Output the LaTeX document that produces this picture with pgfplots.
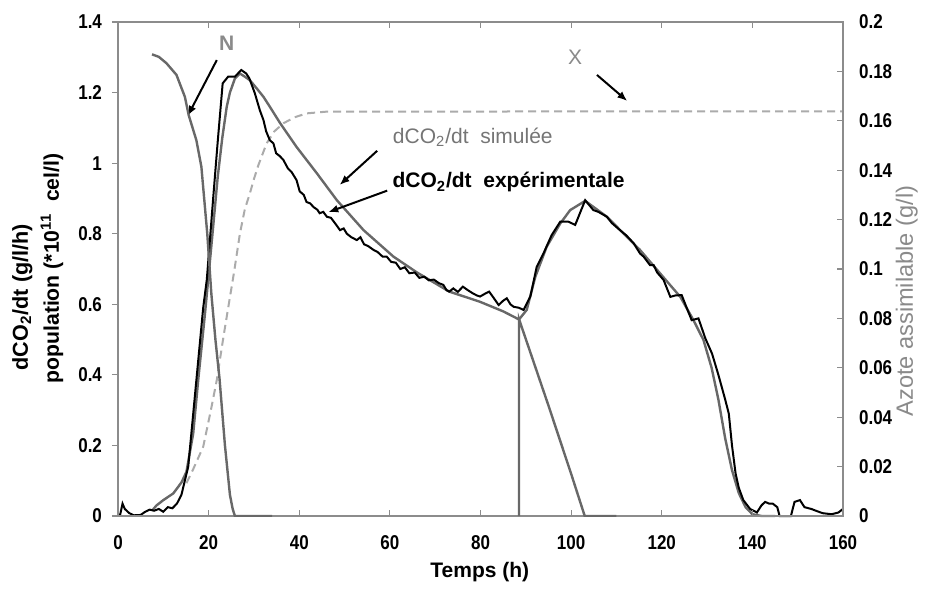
\documentclass[border=0pt]{standalone}
\usepackage{fontspec}
\setmainfont{Liberation Sans}
\newfontfamily\tickfont{Liberation Sans}[FakeStretch=0.85]
\usepackage{pgfplots}
\pgfplotsset{compat=1.18}
\usetikzlibrary{arrows.meta}

\definecolor{simgray}{HTML}{686868}
\definecolor{framegray}{HTML}{8C8C8C}
\definecolor{popgray}{HTML}{ABABAB}
\definecolor{txtgray}{HTML}{8A8A8A}

\pgfplotsset{
  common/.style={
    scale only axis, width=362.5pt, height=247pt,
    at={(0,0)}, anchor=south west,
    xmin=0, xmax=160,
    axis line style={draw=framegray, line width=0.7pt},
    every tick/.style={draw=framegray, line width=0.6pt},
    major tick length=3pt,
    tick label style={font=\tickfont\bfseries\fontsize{10}{12}\selectfont},
    /pgf/number format/assume math mode=true,
    /pgf/number format/fixed,
    scaled y ticks=false,
  }
}

\begin{document}
\begin{tikzpicture}
\begin{axis}[common, clip=false,
  ymin=0, ymax=1.4,
  ytick={0,0.2,...,1.4},
  ytick pos=left, tick align=outside,
  yticklabel style={xshift=-1.5pt},
  xtick=\empty,
  ylabel={population (*10\textsuperscript{11}\ \ cel/l)},
  ylabel style={at={(axis description cs:-0.091,0.501)}, anchor=center,
    font=\bfseries\fontsize{10.6}{12}\selectfont},
  xlabel={Temps (h)},
  xlabel style={at={(axis description cs:0.499,-0.113)}, anchor=center,
    font=\bfseries\fontsize{10.5}{12}\selectfont},
]
% population X (dashed)
\addplot[popgray, line width=1pt, dash pattern=on 4pt off 2.5pt] coordinates {
(15.1,0.093) (16.5,0.13) (18.8,0.196) (20.5,0.30) (21.8,0.385) (23.3,0.51)
(24.7,0.62) (25.6,0.69) (26.9,0.80) (28,0.87) (29.1,0.914) (30,0.955) (31,0.995)
(32.8,1.056) (34.5,1.09) (36.5,1.113) (39,1.13) (41.6,1.141) (46.1,1.146) (160,1.147)
};
% dCO2/dt simulee
\addplot[simgray, line width=1.2pt] coordinates {
(7.5,0.015) (8.5,0.03) (10,0.045) (12.2,0.064) (14,0.095) (15.1,0.125) (16.6,0.234)
(17.7,0.385) (19.2,0.574) (19.9,0.669) (21,0.82) (22,0.96) (23,1.07) (24,1.16)
(24.7,1.20) (25.8,1.24) (26.9,1.254) (28,1.245) (29.1,1.235) (30.6,1.212) (32.1,1.188)
(33.5,1.16) (35.8,1.113) (39.4,1.046) (43.9,0.971) (48.3,0.895) (54.2,0.810)
(60.8,0.735) (66,0.69) (73.1,0.636) (79.9,0.607) (85,0.58) (88.5,0.557)
(90.2,0.584) (92.1,0.678) (94.6,0.763) (97.6,0.829) (99.8,0.867) (103.1,0.893)
(107.9,0.848) (112.3,0.791) (115.2,0.754) (119.6,0.688) (124.1,0.621) (127,0.555)
(129.2,0.499) (131,0.42) (132.5,0.33) (134,0.22) (135.5,0.13) (137,0.065)
(138.5,0.025) (140,0.005) (142,0) (145,0)
};
% dCO2/dt experimentale
\addplot[black, line width=1pt] coordinates {
(0,0) (0.5,0.005) (1,0.035) (1.5,0.02) (2.5,0.008) (3.5,0.002) (5,0.003) (6,0.012)
(7,0.018) (8,0.015) (9,0.02) (10,0.012) (11,0.025) (12,0.022) (13,0.035) (14,0.06)
(15.5,0.14) (16.6,0.29) (17.7,0.44) (18.8,0.59) (19.6,0.67) (21,0.9) (22,1.06)
(23.1,1.226) (24.3,1.245) (25.8,1.245) (27.2,1.264) (28.3,1.254) (29,1.24)
(30.2,1.198) (31.3,1.150) (32.1,1.122) (32.7,1.09) (33.5,1.065) (34.3,1.056)
(34.9,1.028) (35.7,1.02) (36.5,1.009) (37.5,0.985) (38.3,0.975) (39.4,0.952)
(40.1,0.92) (41,0.91) (41.6,0.89) (42.4,0.886) (43.2,0.875) (44,0.868) (44.5,0.858)
(45.3,0.862) (46.1,0.848) (47,0.845) (48,0.828) (49,0.81) (49.8,0.815) (50.5,0.80)
(51.5,0.79) (52.7,0.782) (53.5,0.79) (54.3,0.77) (55.2,0.765) (56.4,0.754)
(57.3,0.748) (58.4,0.735) (59.3,0.735) (60.3,0.72) (61.3,0.718) (62.3,0.70)
(63.3,0.705) (64.3,0.688) (65.5,0.69) (66.5,0.675) (67.6,0.678) (68.6,0.668)
(69.7,0.67) (70.8,0.66) (71.8,0.655) (72.5,0.64) (73.1,0.636) (74,0.645) (75,0.635)
(76.1,0.65) (77.2,0.64) (78.3,0.631) (79.2,0.625) (79.9,0.622) (81,0.63)
(81.9,0.636) (82.8,0.62) (84,0.598) (85,0.61) (85.8,0.617) (86.6,0.60) (87.3,0.593)
(88.5,0.59) (89.5,0.584) (91,0.622) (92.4,0.706) (93.9,0.744) (95.7,0.796)
(97.6,0.834) (99.4,0.834) (100.9,0.825) (103.1,0.895) (104.9,0.867) (106,0.862)
(107.9,0.848) (109,0.83) (110.8,0.81) (112.2,0.795) (113.8,0.773) (115.2,0.744)
(116,0.735) (117.4,0.711) (118.2,0.711) (119,0.69) (120.4,0.669) (121.9,0.621)
(123,0.625) (124.4,0.626) (125.5,0.59) (126.6,0.555) (127.5,0.558) (128.1,0.560)
(129.6,0.504) (131.1,0.46) (132.5,0.40) (134,0.33) (134.8,0.29) (135.5,0.20)
(136.3,0.12) (137,0.08) (138,0.045) (139.5,0.02) (141,0.01) (142,0.03) (142.8,0.04)
(143.7,0.035) (144.5,0.035) (145.5,0.025) (146,0) (148.5,0) (149.3,0.04)
(150.5,0.045) (151.5,0.025) (153,0.02) (154,0.015) (155.5,0.008) (157.5,0.005)
(159,0.01) (160,0.02)
};
% annotations
\node[rotate=90, font=\bfseries\fontsize{10.8}{12}\selectfont] at (axis description cs:-0.132,0.443) {dCO\textsubscript{2}/dt (g/l/h)};
\node[text=txtgray, font=\bfseries\fontsize{10.5}{12}\selectfont] at (axis cs:24.0,1.339) {N};
\draw[line width=1pt, -{Latex[length=5pt,width=4pt]}] (axis cs:21.8,1.292) -- (axis cs:15.4,1.134);
\node[text=txtgray, font=\fontsize{10.5}{12}\selectfont] at (axis cs:100.9,1.301) {X};
\draw[line width=1pt, -{Latex[length=5pt,width=4pt]}] (axis cs:105.7,1.25) -- (axis cs:112.4,1.176);
\node[text=txtgray!85!black, font=\fontsize{10.5}{12}\selectfont] at (axis cs:78.3,1.074) {dCO\textsubscript{2}/dt\ \ simulée};
\draw[line width=1pt, -{Latex[length=5pt,width=4pt]}] (axis cs:57.2,1.035) -- (axis cs:48.9,0.938);
\node[text=black, font=\bfseries\fontsize{10.5}{12}\selectfont] at (axis cs:86.2,0.946) {dCO\textsubscript{2}/dt\ \ expérimentale};
\draw[line width=1pt, -{Latex[length=5pt,width=4pt]}] (axis cs:59.4,0.922) -- (axis cs:46.4,0.861);
\end{axis}

\begin{axis}[common,
  ymin=0, ymax=0.2,
  ytick={0,0.02,...,0.2},
  ytick pos=right, yticklabel pos=right, tick align=inside,
  yticklabel style={xshift=4.5pt},
  xtick={0,20,...,160}, xtick pos=both, xticklabel pos=bottom,
  xticklabel style={yshift=-6pt},
  ylabel={Azote assimilable (g/l)},
  ylabel style={at={(axis description cs:1.088,0.435)}, anchor=center,
    text=txtgray, font=\fontsize{11.8}{13}\selectfont},
]
% azote N
\addplot[simgray, line width=1.2pt] coordinates {
(7.5,0.1869) (9,0.1859) (10.7,0.1833) (12.9,0.1786) (14.76,0.1697) (15.6,0.1623)
(17.3,0.1521) (18.4,0.1414) (19.7,0.1143) (20.6,0.0900) (21.5,0.0714) (22.4,0.0557)
(23.6,0.0286) (24.7,0.0086) (25.3,0.0029) (25.8,0) (34,0)
};
\addplot[simgray, line width=1.2pt] coordinates {
(88.5,0) (88.5,0.0797) (95,0.0447) (100,0.0171) (102,0.0057) (103,0) (110,0)
};
\end{axis}
\path[use as bounding box] (-59pt,-32.5pt) rectangle (406.5pt,258pt);
\end{tikzpicture}
\end{document}
